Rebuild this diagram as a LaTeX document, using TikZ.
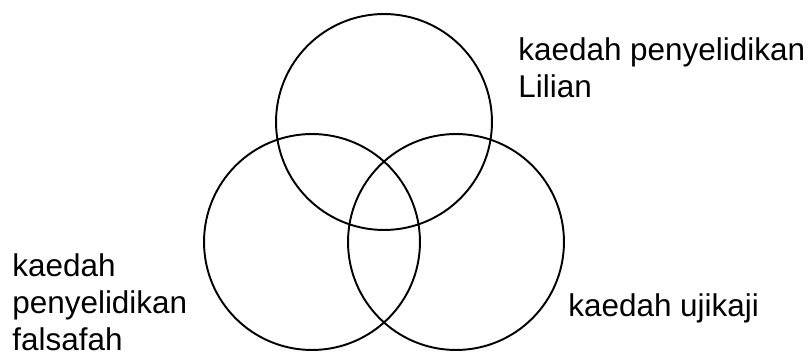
\documentclass[tikz,border=0pt]{standalone}
\usepackage{fontspec}
\setmainfont{Liberation Sans}
\tikzset{
  setring/.style={draw,circle,line width=1.1pt,minimum size=4.32cm,inner sep=0pt},
  setlabel/.style={inner sep=0pt,font=\fontsize{17.9pt}{20.8pt}\selectfont,align=left}
}
\begin{document}
\begin{tikzpicture}[x=0.02cm,y=-0.02cm]
\useasboundingbox (0,0) rectangle (812,355);
% The three sets
\node[setring] (lilian) at (384,122) {};
\node[setring] (falsafah) at (312,242) {};
\node[setring] (ujikaji) at (456,242) {};
% Labels (base = baseline of last line)
\node[setlabel,anchor=base west] (lblLilian) at (518,97) {kaedah penyelidikan\\Lilian};
\node[setlabel,anchor=base west] (lblFalsafah) at (12,350) {kaedah\\penyelidikan\\falsafah};
\node[setlabel,anchor=base west] (lblUjikaji) at (568,316) {kaedah ujikaji};
\end{tikzpicture}
\end{document}
